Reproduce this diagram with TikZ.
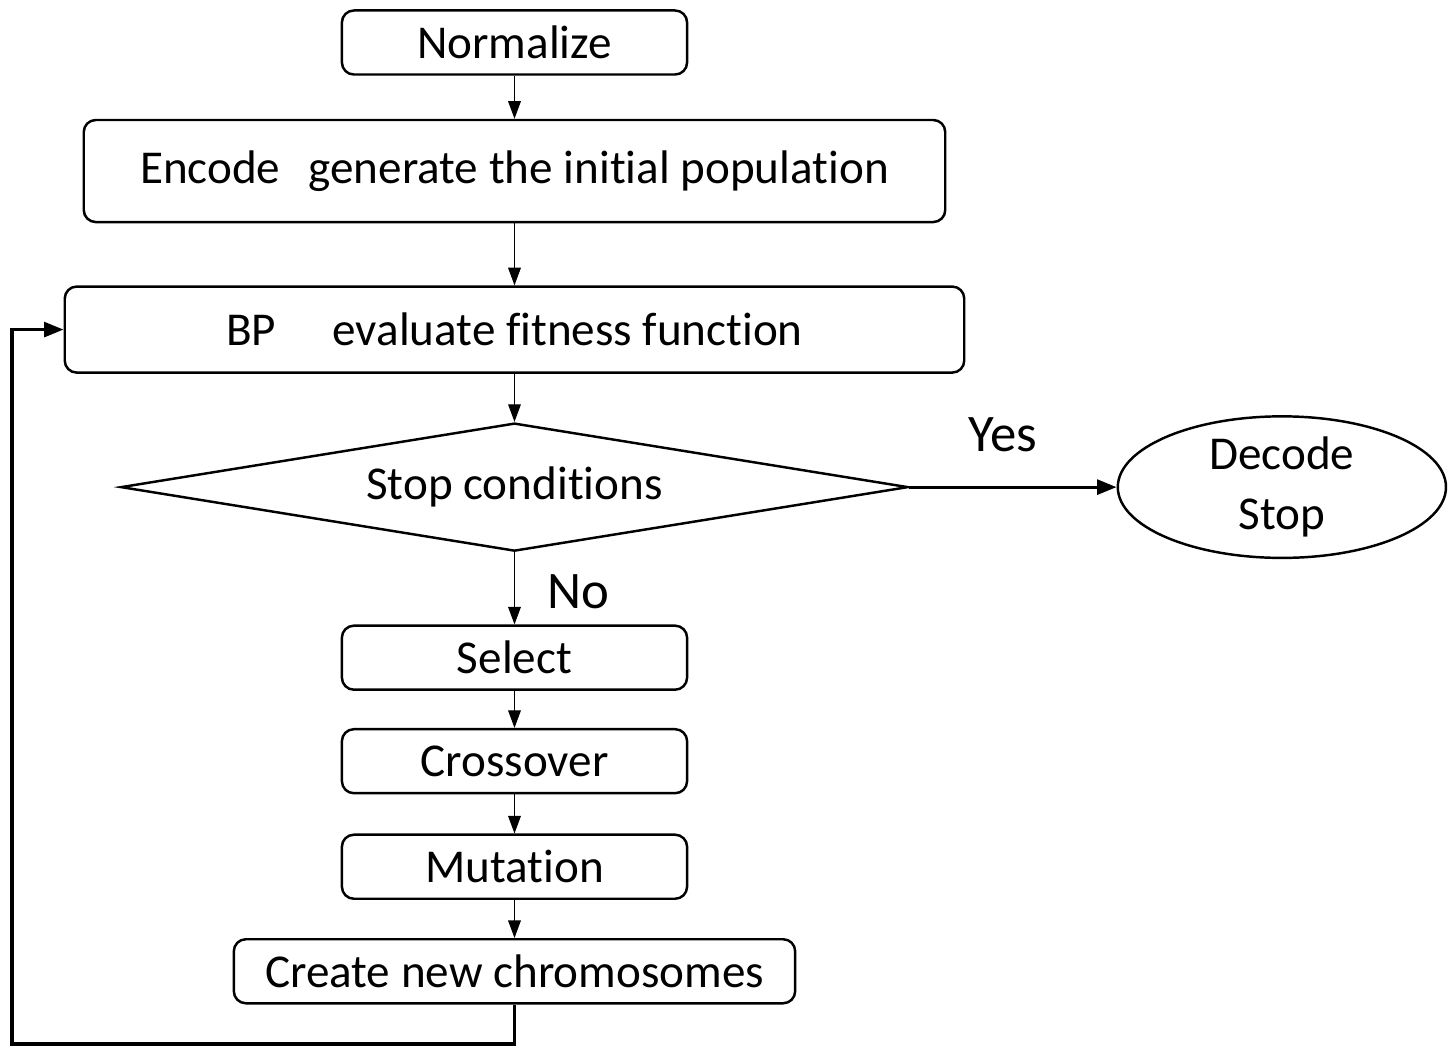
\documentclass[tikz,border=0pt]{standalone}
\usepackage{fontspec}
\setmainfont{Carlito}[Ligatures={NoCommon}]
\usetikzlibrary{arrows.meta, positioning, shapes.geometric}
\tikzset{
  stepbox/.style={draw, rectangle, rounded corners=0.12cm, line width=0.7pt, inner sep=0pt, minimum height=0.64cm, font=\fontsize{13.4}{16}\selectfont},
  smallbox/.style={stepbox, minimum width=3.45cm},
  decision/.style={draw, diamond, aspect=6.15, minimum width=7.87cm, minimum height=1.28cm, inner sep=0pt, line width=0.7pt, font=\fontsize{13.4}{16}\selectfont},
  terminal/.style={draw, ellipse, minimum width=3.28cm, minimum height=1.33cm, inner sep=0pt, line width=0.7pt, align=center, font=\fontsize{13.4}{17}\selectfont},
  answer/.style={font=\fontsize{15}{18}\selectfont},
  flow/.style={-{Triangle[length=5pt, width=3.6pt]}, line width=0.35pt},
  branch/.style={-{Triangle[length=5.5pt, width=4.2pt]}, line width=0.9pt},
  loopback/.style={-{Triangle[length=5.5pt, width=4.2pt]}, line width=0.9pt},
}

\begin{document}
\begin{tikzpicture}[x=0.01cm, y=-0.01cm]
  \useasboundingbox (0,0) rectangle (1453,1046);
  \node[smallbox] (norm) at (514.5,42.5) {Normalize};
  \node[stepbox, minimum width=8.61cm, minimum height=1.02cm, below=0.43cm of norm] (enc) {Encode\hspace{0.6em}generate the initial population};
  \node[stepbox, minimum width=8.99cm, minimum height=0.86cm, below=0.62cm of enc] (bp) {BP\hspace{1.2em}evaluate fitness function};
  \node[decision, below=0.48cm of bp] (cond) {Stop conditions};
  \node[terminal, right=2.07cm of cond] (dec) {Decode\\Stop};
  \node[smallbox, below=0.72cm of cond] (sel) {Select};
  \node[smallbox, below=0.37cm of sel] (cross) {Crossover};
  \node[smallbox, below=0.39cm of cross] (mut) {Mutation};
  \node[stepbox, minimum width=5.61cm, below=0.38cm of mut] (create) {Create new chromosomes};
  \coordinate (back) at (12,1044);

  \draw[flow] (norm) -- (enc);
  \draw[flow] (enc) -- (bp);
  \draw[flow] (bp) -- (cond);
  \draw[branch] (cond) -- node[answer, pos=0.45, above=0.22cm] {Yes} (dec);
  \draw[flow] (cond) -- node[answer, pos=0.55, right=0.21cm] {No} (sel);
  \draw[flow] (sel) -- (cross);
  \draw[flow] (cross) -- (mut);
  \draw[flow] (mut) -- (create);
  \draw[loopback] (create.south) |- (back) |- (bp.west);
\end{tikzpicture}
\end{document}
